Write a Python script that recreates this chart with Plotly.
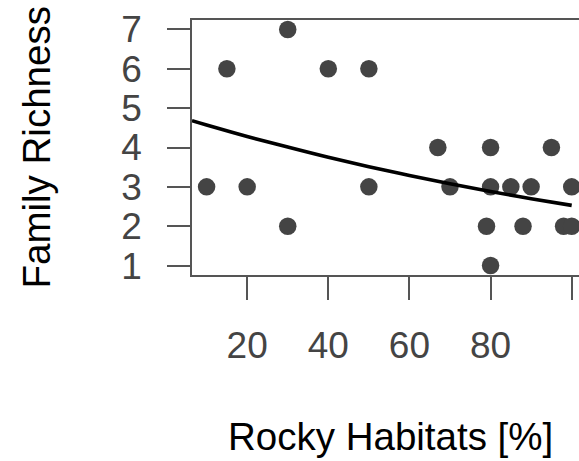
import plotly.graph_objects as go

rocky = [10, 15, 20, 30, 30, 40, 50, 50, 67, 70, 79, 80, 80, 80, 85, 88, 90, 95, 98, 100, 100]
richness = [3, 6, 3, 7, 2, 6, 6, 3, 4, 3, 2, 4, 3, 1, 3, 2, 3, 4, 2, 2, 3]

fit_x = [6.4, 10, 20, 30, 40, 50, 60, 70, 80, 90, 100]
fit_y = [4.68, 4.57, 4.28, 4.01, 3.75, 3.51, 3.29, 3.08, 2.88, 2.70, 2.53]

x_ticks = [20, 40, 60, 80, 100]
x_ticklabels = ["20", "40", "60", "80", ""]
y_ticks = [1, 2, 3, 4, 5, 6, 7]

fig = go.Figure()
fig.add_trace(go.Scatter(x=rocky, y=richness, mode="markers",
                         marker=dict(size=17.5, color="#444444", line=dict(width=0)),
                         showlegend=False, cliponaxis=False))
fig.add_trace(go.Scatter(x=fit_x, y=fit_y, mode="lines", line=dict(color="black", width=3.6, shape="spline"),
                         showlegend=False))

font_family = "Liberation Sans, Arial, sans-serif"
fig.update_layout(
    width=579, height=461,
    margin=dict(l=192, r=0, t=19.5, b=186),
    paper_bgcolor="white", plot_bgcolor="white",
    font=dict(family=font_family, size=37, color="#444444"),
    xaxis=dict(range=[6.4, 101.8], tickvals=x_ticks, ticktext=x_ticklabels,
               ticks="outside", ticklen=23, tickwidth=1.8, tickcolor="#555555",
               showline=True, linecolor="#555555", linewidth=1.6, mirror=True,
               showgrid=False, zeroline=False, ticklabelstandoff=14,
               tickfont=dict(size=37, color="#444444")),
    yaxis=dict(range=[0.76, 7.24], tickvals=y_ticks,
               ticks="outside", ticklen=23, tickwidth=1.8, tickcolor="#555555",
               showline=True, linecolor="#555555", linewidth=1.6,
               showgrid=False, zeroline=False, ticklabelstandoff=18,
               tickfont=dict(size=37, color="#444444")),
    annotations=[
        dict(text="Rocky Habitats [%]", xref="paper", yref="paper", x=(390 - 192) / 387, y=(461 - 186 - 449) / 275.5,
             xanchor="center", yanchor="middle", showarrow=False, font=dict(size=38.5, color="black")),
        dict(text="Family Richness", xref="paper", yref="paper", x=(36 - 192) / 387, y=0.5,
             xanchor="center", yanchor="middle", textangle=-90, showarrow=False, font=dict(size=38.5, color="black")),
    ],
)
fig.write_html("out.html")
